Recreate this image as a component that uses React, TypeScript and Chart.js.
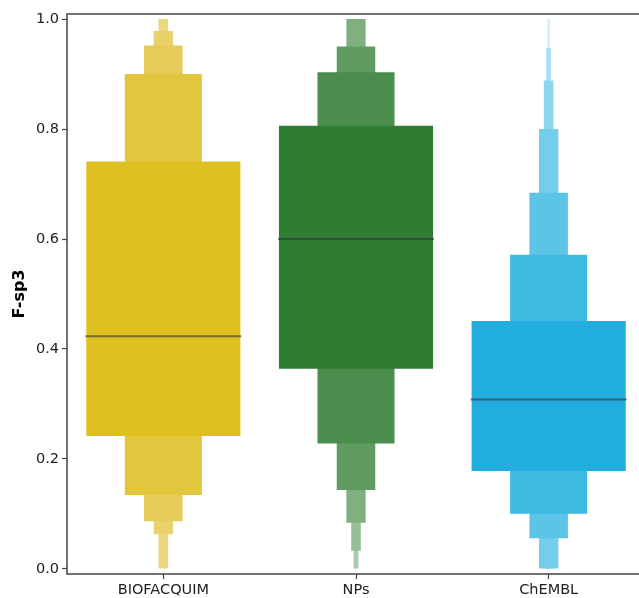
import React, { useEffect, useRef } from 'react';
import { Chart, registerables } from 'chart.js';

Chart.register(...registerables);

const categories = ['BIOFACQUIM', 'NPs', 'ChEMBL'];
const medians = [0.423, 0.600, 0.308];

// letter-value boxes, innermost level first
const biofacquimLower = [0.242, 0.1345, 0.087, 0.063, 0.0];
const biofacquimUpper = [0.741, 0.900, 0.952, 0.978, 1.0];
const npsLower = [0.364, 0.228, 0.1436, 0.084, 0.033, 0.0];
const npsUpper = [0.806, 0.903, 0.950, 1.0, 1.0, 1.0];
const chemblLower = [0.178, 0.1006, 0.0558, 0.0, 0.0, 0.0, 0.0];
const chemblUpper = [0.451, 0.5715, 0.684, 0.800, 0.888, 0.947, 1.0];

const yTicks = [0.0, 0.2, 0.4, 0.6, 0.8, 1.0];

const levelWidths = [0.8, 0.4, 0.2, 0.1, 0.05, 0.025, 0.0125];
const biofacquimColors = ['#DEC020', '#E2C63E', '#E5CB57', '#E8D16C', '#EBD77E'];
const npsColors = ['#2E7D32', '#4A8D4C', '#609B61', '#80B080', '#96BF96', '#AACCAA'];
const chemblColors = ['#21ADDE', '#3EB9E1', '#5CC4E6', '#74CDEA', '#8CD6EE', '#A9E1F3', '#CBEEF8'];

export default function App() {
  const ref = useRef<HTMLCanvasElement>(null);
  useEffect(() => {
    const lowers = [biofacquimLower, npsLower, chemblLower];
    const uppers = [biofacquimUpper, npsUpper, chemblUpper];
    const palettes = [biofacquimColors, npsColors, chemblColors];
    const nLevels = Math.max(...lowers.map((l) => l.length));
    const datasets: any[] = [];
    datasets.push({
      label: 'median',
      data: medians.map((m) => [m - 0.0018, m + 0.0018]),
      backgroundColor: 'rgba(51,51,51,0.6)',
      barPercentage: 0.81,
      categoryPercentage: 1,
      grouped: false,
      borderWidth: 0,
    });
    for (let k = 0; k < nLevels; k++) {
      datasets.push({
        label: 'level ' + (k + 1),
        data: categories.map((_, i) => (k < lowers[i].length ? [lowers[i][k], uppers[i][k]] : null)),
        backgroundColor: categories.map((_, i) => palettes[i][k] ?? 'rgba(0,0,0,0)'),
        barPercentage: levelWidths[k],
        categoryPercentage: 1,
        grouped: false,
        borderWidth: 0,
      });
    }
    const frame = {
      id: 'frame',
      afterDraw(chart: any) {
        const { ctx, chartArea: a } = chart;
        ctx.save();
        ctx.strokeStyle = '#444';
        ctx.lineWidth = 1.5;
        ctx.beginPath();
        ctx.moveTo(a.right + 2, a.top);
        ctx.lineTo(a.left, a.top);
        ctx.lineTo(a.left, a.bottom);
        ctx.lineTo(a.right + 2, a.bottom);
        ctx.stroke();
        ctx.restore();
      },
    };
    const tickFont = { family: 'DejaVu Sans', size: 14.5 };
    const chart = new Chart(ref.current as HTMLCanvasElement, {
      type: 'bar',
      data: { labels: categories, datasets },
      plugins: [frame],
      options: {
        responsive: false,
        animation: false,
        layout: { padding: { top: 14, left: 0, right: 0, bottom: 0 } },
        plugins: { legend: { display: false }, tooltip: { enabled: false } },
        scales: {
          x: {
            grid: { display: true, drawOnChartArea: false, offset: false, tickLength: 5, tickColor: '#444', tickWidth: 1.2 },
            border: { display: false },
            ticks: { color: '#222', font: tickFont, padding: 3 },
            afterFit(s: any) { s.height = 24; },
          },
          y: {
            min: -0.0091,
            max: 1.0091,
            afterBuildTicks(s: any) { s.ticks = yTicks.map((v) => ({ value: v })); },
            grid: { display: true, drawOnChartArea: false, tickLength: 5, tickColor: '#444', tickWidth: 1.2 },
            border: { display: false },
            ticks: { color: '#222', font: tickFont, padding: 3, callback: (v: any) => Number(v).toFixed(1) },
            title: {
              display: true,
              text: 'F-sp3',
              color: '#000',
              font: { family: 'DejaVu Sans', size: 16, weight: 'bold' },
              padding: { top: 10, bottom: 0 },
            },
            afterFit(s: any) { s.width = 67; },
          },
        },
      } as any,
    });
    return () => chart.destroy();
  }, []);
  return (
    <div style={{ position: 'fixed', left: 0, top: 0, width: 639, height: 598, overflow: 'hidden', background: '#fff' }}>
      <canvas ref={ref} width={645} height={598} style={{ display: 'block' }} />
    </div>
  );
}
